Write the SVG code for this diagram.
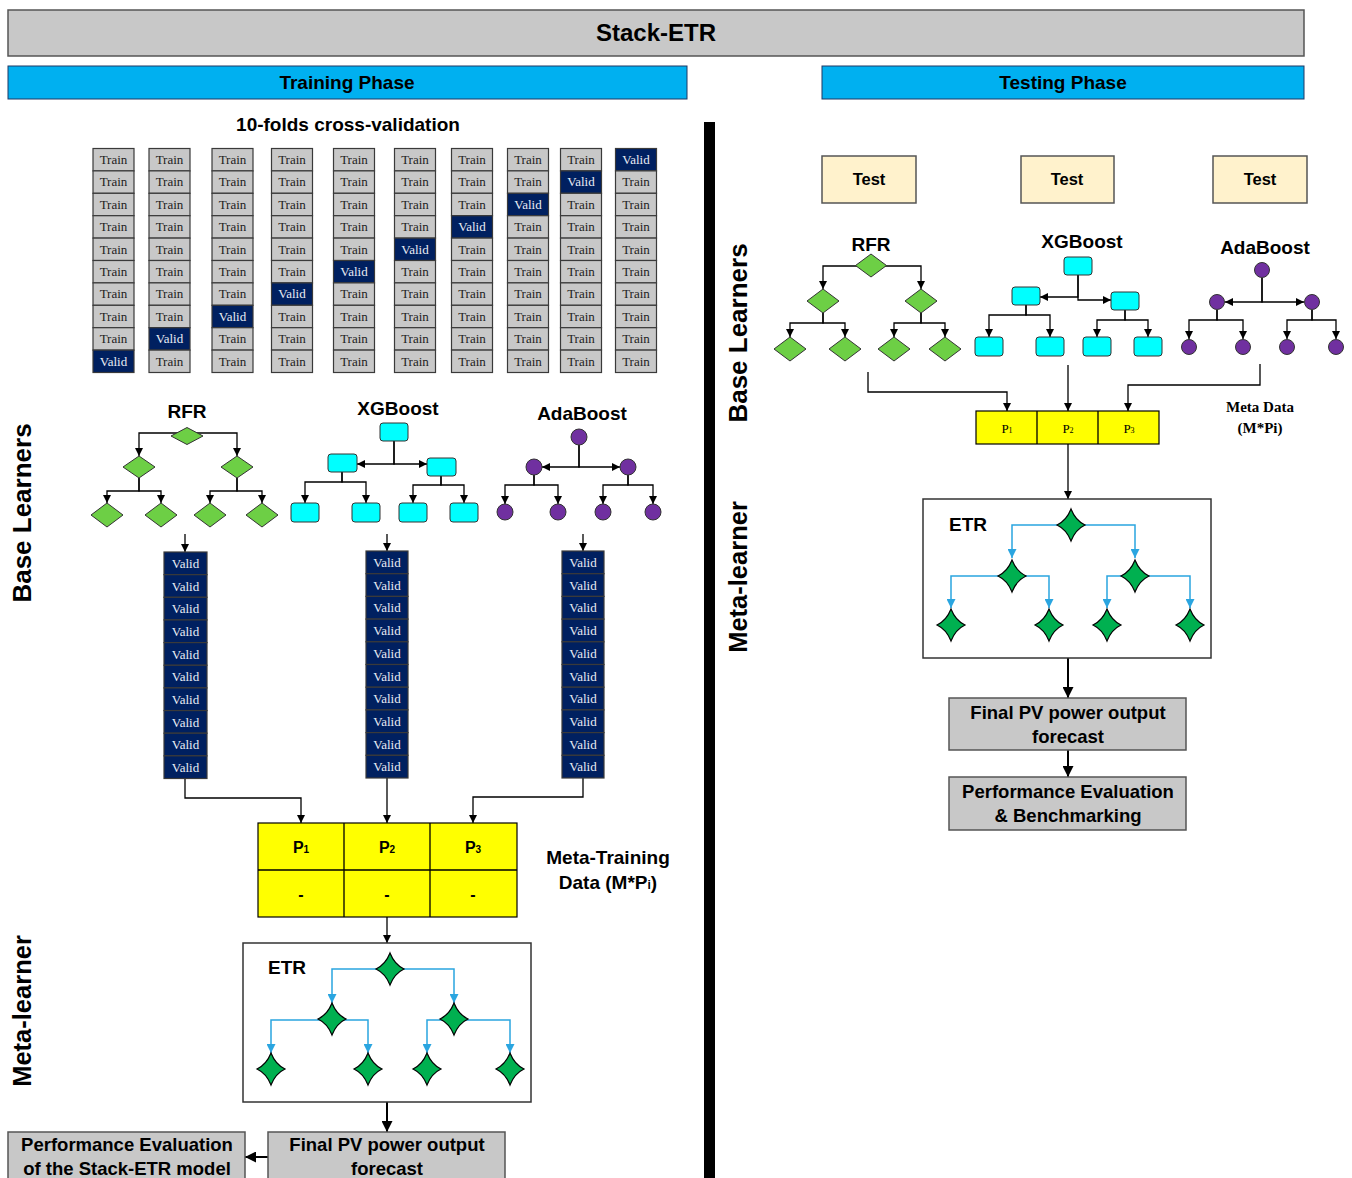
<svg xmlns="http://www.w3.org/2000/svg" xmlns:xlink="http://www.w3.org/1999/xlink" width="1352" height="1178" viewBox="0 0 1352 1178">
<style>
.h{font-family:'Liberation Sans',Arial,sans-serif;font-weight:bold;fill:#000;text-anchor:middle}
.bar{fill:#00b0f0;stroke:#1f3864;stroke-width:1}
.gbox{fill:#c8c8c8;stroke:#555;stroke-width:1.5}
.tc{fill:#c8c8c8;stroke:#3a3a3a;stroke-width:1.2}
.vc{fill:#002060;stroke:#3a3a3a;stroke-width:1.2}
.tt{font-family:'Liberation Serif','Times New Roman',serif;font-size:13px;fill:#222;text-anchor:middle}
.tv{font-family:'Liberation Serif','Times New Roman',serif;font-size:13px;fill:#e8ecf4;text-anchor:middle}
.dia{fill:#6dcf45;stroke:#333;stroke-width:1}
.xr{fill:#00ffff;stroke:#333;stroke-width:1}
.cir{fill:#7030a0;stroke:#333;stroke-width:1}
.st{fill:#00b050;stroke:#000;stroke-width:1.2}
.ln{fill:none;stroke:#000;stroke-width:1.3}
.tk{fill:none;stroke:#000;stroke-width:2}
.bl{fill:none;stroke:#2aa5e0;stroke-width:1.5}
.yb{fill:#ffff00;stroke:#000;stroke-width:1.2}
.test{fill:#fff2cc;stroke:#555;stroke-width:1.5}
.etr{fill:none;stroke:#333;stroke-width:1.5}
</style>
<defs>
<marker id="ah" viewBox="0 0 10 10" refX="10" refY="5" markerWidth="8" markerHeight="8" orient="auto" markerUnits="userSpaceOnUse"><path d="M0,0 L10,5 L0,10 z" fill="#000"/></marker>
<marker id="ah2" viewBox="0 0 10 10" refX="10" refY="5" markerWidth="11" markerHeight="11" orient="auto" markerUnits="userSpaceOnUse"><path d="M0,0 L10,5 L0,10 z" fill="#000"/></marker>
<marker id="bh" viewBox="0 0 10 10" refX="10" refY="5" markerWidth="9" markerHeight="9" orient="auto" markerUnits="userSpaceOnUse"><path d="M0,0 L10,5 L0,10 z" fill="#2aa5e0"/></marker>
<path id="star" class="st" d="M0,-16 Q4.5,-4.5 14,0 Q4.5,4.5 0,16 Q-4.5,4.5 -14,0 Q-4.5,-4.5 0,-16Z"/>
</defs>

<rect x="0" y="0" width="1352" height="1178" fill="#fff"/>

<g id="title">
<rect x="8" y="10" width="1296" height="46" class="gbox"/>
<text x="656" y="41" class="h" font-size="24">Stack-ETR</text>
</g>
<g id="training-phase">
<rect x="8" y="66" width="679" height="33" class="bar"/>
<text x="347" y="89" class="h" font-size="19">Training Phase</text>
</g>
<g id="testing-phase">
<rect x="822" y="66" width="482" height="33" class="bar"/>
<text x="1063" y="89" class="h" font-size="19">Testing Phase</text>
</g>
<rect id="divider" x="704" y="122" width="11" height="1056" fill="#000"/>

<text x="348" y="131" class="h" font-size="19">10-folds cross-validation</text>

<g id="side-labels">
<text transform="translate(31,513) rotate(-90)" class="h" font-size="26">Base Learners</text>
<text transform="translate(31,1011) rotate(-90)" class="h" font-size="25.5">Meta-learner</text>
<text transform="translate(747,333) rotate(-90)" class="h" font-size="26">Base Learners</text>
<text transform="translate(747,577) rotate(-90)" class="h" font-size="25.5">Meta-learner</text>
</g>

<!-- 10 folds grid -->
<g id="folds">
<g id="fold1" transform="translate(93,148.5)">
<rect y="0" width="41" height="22.4" class="tc"/><text x="20.5" y="15.5" class="tt">Train</text>
<rect y="22.4" width="41" height="22.4" class="tc"/><text x="20.5" y="37.9" class="tt">Train</text>
<rect y="44.8" width="41" height="22.4" class="tc"/><text x="20.5" y="60.3" class="tt">Train</text>
<rect y="67.2" width="41" height="22.4" class="tc"/><text x="20.5" y="82.7" class="tt">Train</text>
<rect y="89.6" width="41" height="22.4" class="tc"/><text x="20.5" y="105.1" class="tt">Train</text>
<rect y="112" width="41" height="22.4" class="tc"/><text x="20.5" y="127.5" class="tt">Train</text>
<rect y="134.4" width="41" height="22.4" class="tc"/><text x="20.5" y="149.9" class="tt">Train</text>
<rect y="156.8" width="41" height="22.4" class="tc"/><text x="20.5" y="172.3" class="tt">Train</text>
<rect y="179.2" width="41" height="22.4" class="tc"/><text x="20.5" y="194.7" class="tt">Train</text>
<rect y="201.6" width="41" height="22.4" class="vc"/><text x="20.5" y="217.1" class="tv">Valid</text>
</g>
<g id="fold2" transform="translate(149,148.5)">
<rect y="0" width="41" height="22.4" class="tc"/><text x="20.5" y="15.5" class="tt">Train</text>
<rect y="22.4" width="41" height="22.4" class="tc"/><text x="20.5" y="37.9" class="tt">Train</text>
<rect y="44.8" width="41" height="22.4" class="tc"/><text x="20.5" y="60.3" class="tt">Train</text>
<rect y="67.2" width="41" height="22.4" class="tc"/><text x="20.5" y="82.7" class="tt">Train</text>
<rect y="89.6" width="41" height="22.4" class="tc"/><text x="20.5" y="105.1" class="tt">Train</text>
<rect y="112" width="41" height="22.4" class="tc"/><text x="20.5" y="127.5" class="tt">Train</text>
<rect y="134.4" width="41" height="22.4" class="tc"/><text x="20.5" y="149.9" class="tt">Train</text>
<rect y="156.8" width="41" height="22.4" class="tc"/><text x="20.5" y="172.3" class="tt">Train</text>
<rect y="179.2" width="41" height="22.4" class="vc"/><text x="20.5" y="194.7" class="tv">Valid</text>
<rect y="201.6" width="41" height="22.4" class="tc"/><text x="20.5" y="217.1" class="tt">Train</text>
</g>
<g id="fold3" transform="translate(212,148.5)">
<rect y="0" width="41" height="22.4" class="tc"/><text x="20.5" y="15.5" class="tt">Train</text>
<rect y="22.4" width="41" height="22.4" class="tc"/><text x="20.5" y="37.9" class="tt">Train</text>
<rect y="44.8" width="41" height="22.4" class="tc"/><text x="20.5" y="60.3" class="tt">Train</text>
<rect y="67.2" width="41" height="22.4" class="tc"/><text x="20.5" y="82.7" class="tt">Train</text>
<rect y="89.6" width="41" height="22.4" class="tc"/><text x="20.5" y="105.1" class="tt">Train</text>
<rect y="112" width="41" height="22.4" class="tc"/><text x="20.5" y="127.5" class="tt">Train</text>
<rect y="134.4" width="41" height="22.4" class="tc"/><text x="20.5" y="149.9" class="tt">Train</text>
<rect y="156.8" width="41" height="22.4" class="vc"/><text x="20.5" y="172.3" class="tv">Valid</text>
<rect y="179.2" width="41" height="22.4" class="tc"/><text x="20.5" y="194.7" class="tt">Train</text>
<rect y="201.6" width="41" height="22.4" class="tc"/><text x="20.5" y="217.1" class="tt">Train</text>
</g>
<g id="fold4" transform="translate(271.5,148.5)">
<rect y="0" width="41" height="22.4" class="tc"/><text x="20.5" y="15.5" class="tt">Train</text>
<rect y="22.4" width="41" height="22.4" class="tc"/><text x="20.5" y="37.9" class="tt">Train</text>
<rect y="44.8" width="41" height="22.4" class="tc"/><text x="20.5" y="60.3" class="tt">Train</text>
<rect y="67.2" width="41" height="22.4" class="tc"/><text x="20.5" y="82.7" class="tt">Train</text>
<rect y="89.6" width="41" height="22.4" class="tc"/><text x="20.5" y="105.1" class="tt">Train</text>
<rect y="112" width="41" height="22.4" class="tc"/><text x="20.5" y="127.5" class="tt">Train</text>
<rect y="134.4" width="41" height="22.4" class="vc"/><text x="20.5" y="149.9" class="tv">Valid</text>
<rect y="156.8" width="41" height="22.4" class="tc"/><text x="20.5" y="172.3" class="tt">Train</text>
<rect y="179.2" width="41" height="22.4" class="tc"/><text x="20.5" y="194.7" class="tt">Train</text>
<rect y="201.6" width="41" height="22.4" class="tc"/><text x="20.5" y="217.1" class="tt">Train</text>
</g>
<g id="fold5" transform="translate(333.5,148.5)">
<rect y="0" width="41" height="22.4" class="tc"/><text x="20.5" y="15.5" class="tt">Train</text>
<rect y="22.4" width="41" height="22.4" class="tc"/><text x="20.5" y="37.9" class="tt">Train</text>
<rect y="44.8" width="41" height="22.4" class="tc"/><text x="20.5" y="60.3" class="tt">Train</text>
<rect y="67.2" width="41" height="22.4" class="tc"/><text x="20.5" y="82.7" class="tt">Train</text>
<rect y="89.6" width="41" height="22.4" class="tc"/><text x="20.5" y="105.1" class="tt">Train</text>
<rect y="112" width="41" height="22.4" class="vc"/><text x="20.5" y="127.5" class="tv">Valid</text>
<rect y="134.4" width="41" height="22.4" class="tc"/><text x="20.5" y="149.9" class="tt">Train</text>
<rect y="156.8" width="41" height="22.4" class="tc"/><text x="20.5" y="172.3" class="tt">Train</text>
<rect y="179.2" width="41" height="22.4" class="tc"/><text x="20.5" y="194.7" class="tt">Train</text>
<rect y="201.6" width="41" height="22.4" class="tc"/><text x="20.5" y="217.1" class="tt">Train</text>
</g>
<g id="fold6" transform="translate(394.5,148.5)">
<rect y="0" width="41" height="22.4" class="tc"/><text x="20.5" y="15.5" class="tt">Train</text>
<rect y="22.4" width="41" height="22.4" class="tc"/><text x="20.5" y="37.9" class="tt">Train</text>
<rect y="44.8" width="41" height="22.4" class="tc"/><text x="20.5" y="60.3" class="tt">Train</text>
<rect y="67.2" width="41" height="22.4" class="tc"/><text x="20.5" y="82.7" class="tt">Train</text>
<rect y="89.6" width="41" height="22.4" class="vc"/><text x="20.5" y="105.1" class="tv">Valid</text>
<rect y="112" width="41" height="22.4" class="tc"/><text x="20.5" y="127.5" class="tt">Train</text>
<rect y="134.4" width="41" height="22.4" class="tc"/><text x="20.5" y="149.9" class="tt">Train</text>
<rect y="156.8" width="41" height="22.4" class="tc"/><text x="20.5" y="172.3" class="tt">Train</text>
<rect y="179.2" width="41" height="22.4" class="tc"/><text x="20.5" y="194.7" class="tt">Train</text>
<rect y="201.6" width="41" height="22.4" class="tc"/><text x="20.5" y="217.1" class="tt">Train</text>
</g>
<g id="fold7" transform="translate(451.5,148.5)">
<rect y="0" width="41" height="22.4" class="tc"/><text x="20.5" y="15.5" class="tt">Train</text>
<rect y="22.4" width="41" height="22.4" class="tc"/><text x="20.5" y="37.9" class="tt">Train</text>
<rect y="44.8" width="41" height="22.4" class="tc"/><text x="20.5" y="60.3" class="tt">Train</text>
<rect y="67.2" width="41" height="22.4" class="vc"/><text x="20.5" y="82.7" class="tv">Valid</text>
<rect y="89.6" width="41" height="22.4" class="tc"/><text x="20.5" y="105.1" class="tt">Train</text>
<rect y="112" width="41" height="22.4" class="tc"/><text x="20.5" y="127.5" class="tt">Train</text>
<rect y="134.4" width="41" height="22.4" class="tc"/><text x="20.5" y="149.9" class="tt">Train</text>
<rect y="156.8" width="41" height="22.4" class="tc"/><text x="20.5" y="172.3" class="tt">Train</text>
<rect y="179.2" width="41" height="22.4" class="tc"/><text x="20.5" y="194.7" class="tt">Train</text>
<rect y="201.6" width="41" height="22.4" class="tc"/><text x="20.5" y="217.1" class="tt">Train</text>
</g>
<g id="fold8" transform="translate(507.5,148.5)">
<rect y="0" width="41" height="22.4" class="tc"/><text x="20.5" y="15.5" class="tt">Train</text>
<rect y="22.4" width="41" height="22.4" class="tc"/><text x="20.5" y="37.9" class="tt">Train</text>
<rect y="44.8" width="41" height="22.4" class="vc"/><text x="20.5" y="60.3" class="tv">Valid</text>
<rect y="67.2" width="41" height="22.4" class="tc"/><text x="20.5" y="82.7" class="tt">Train</text>
<rect y="89.6" width="41" height="22.4" class="tc"/><text x="20.5" y="105.1" class="tt">Train</text>
<rect y="112" width="41" height="22.4" class="tc"/><text x="20.5" y="127.5" class="tt">Train</text>
<rect y="134.4" width="41" height="22.4" class="tc"/><text x="20.5" y="149.9" class="tt">Train</text>
<rect y="156.8" width="41" height="22.4" class="tc"/><text x="20.5" y="172.3" class="tt">Train</text>
<rect y="179.2" width="41" height="22.4" class="tc"/><text x="20.5" y="194.7" class="tt">Train</text>
<rect y="201.6" width="41" height="22.4" class="tc"/><text x="20.5" y="217.1" class="tt">Train</text>
</g>
<g id="fold9" transform="translate(560.5,148.5)">
<rect y="0" width="41" height="22.4" class="tc"/><text x="20.5" y="15.5" class="tt">Train</text>
<rect y="22.4" width="41" height="22.4" class="vc"/><text x="20.5" y="37.9" class="tv">Valid</text>
<rect y="44.8" width="41" height="22.4" class="tc"/><text x="20.5" y="60.3" class="tt">Train</text>
<rect y="67.2" width="41" height="22.4" class="tc"/><text x="20.5" y="82.7" class="tt">Train</text>
<rect y="89.6" width="41" height="22.4" class="tc"/><text x="20.5" y="105.1" class="tt">Train</text>
<rect y="112" width="41" height="22.4" class="tc"/><text x="20.5" y="127.5" class="tt">Train</text>
<rect y="134.4" width="41" height="22.4" class="tc"/><text x="20.5" y="149.9" class="tt">Train</text>
<rect y="156.8" width="41" height="22.4" class="tc"/><text x="20.5" y="172.3" class="tt">Train</text>
<rect y="179.2" width="41" height="22.4" class="tc"/><text x="20.5" y="194.7" class="tt">Train</text>
<rect y="201.6" width="41" height="22.4" class="tc"/><text x="20.5" y="217.1" class="tt">Train</text>
</g>
<g id="fold10" transform="translate(615.5,148.5)">
<rect y="0" width="41" height="22.4" class="vc"/><text x="20.5" y="15.5" class="tv">Valid</text>
<rect y="22.4" width="41" height="22.4" class="tc"/><text x="20.5" y="37.9" class="tt">Train</text>
<rect y="44.8" width="41" height="22.4" class="tc"/><text x="20.5" y="60.3" class="tt">Train</text>
<rect y="67.2" width="41" height="22.4" class="tc"/><text x="20.5" y="82.7" class="tt">Train</text>
<rect y="89.6" width="41" height="22.4" class="tc"/><text x="20.5" y="105.1" class="tt">Train</text>
<rect y="112" width="41" height="22.4" class="tc"/><text x="20.5" y="127.5" class="tt">Train</text>
<rect y="134.4" width="41" height="22.4" class="tc"/><text x="20.5" y="149.9" class="tt">Train</text>
<rect y="156.8" width="41" height="22.4" class="tc"/><text x="20.5" y="172.3" class="tt">Train</text>
<rect y="179.2" width="41" height="22.4" class="tc"/><text x="20.5" y="194.7" class="tt">Train</text>
<rect y="201.6" width="41" height="22.4" class="tc"/><text x="20.5" y="217.1" class="tt">Train</text>
</g>
</g>

<!-- connectors -->
<g id="connectors">
<path class="ln" marker-end="url(#ah)" d="M187,433 H139 V456"/>
<path class="ln" marker-end="url(#ah)" d="M187,433 H237 V456"/>
<path class="ln" marker-end="url(#ah)" d="M139,478 V491 H107 V503"/>
<path class="ln" marker-end="url(#ah)" d="M139,478 V491 H161 V503"/>
<path class="ln" marker-end="url(#ah)" d="M237,478 V491 H210 V503"/>
<path class="ln" marker-end="url(#ah)" d="M237,478 V491 H262 V503"/>
<path class="ln" marker-end="url(#ah)" d="M394,441 V464 H357"/>
<path class="ln" marker-end="url(#ah)" d="M394,441 V464 H427"/>
<path class="ln" marker-end="url(#ah)" d="M342,472 V482 H305 V503"/>
<path class="ln" marker-end="url(#ah)" d="M342,472 V482 H366 V503"/>
<path class="ln" marker-end="url(#ah)" d="M441,476 V485 H413 V503"/>
<path class="ln" marker-end="url(#ah)" d="M441,476 V485 H464 V503"/>
<path class="ln" marker-end="url(#ah)" d="M579,445 V467 H542"/>
<path class="ln" marker-end="url(#ah)" d="M579,445 V467 H620"/>
<path class="ln" marker-end="url(#ah)" d="M534,475 V485 H505 V504"/>
<path class="ln" marker-end="url(#ah)" d="M534,475 V485 H558 V504"/>
<path class="ln" marker-end="url(#ah)" d="M628,475 V485 H603 V504"/>
<path class="ln" marker-end="url(#ah)" d="M628,475 V485 H653 V504"/>
<path class="ln" marker-end="url(#ah)" d="M185,534 V552"/>
<path class="ln" marker-end="url(#ah)" d="M387,534 V551"/>
<path class="ln" marker-end="url(#ah)" d="M583,534 V551"/>
<path class="ln" marker-end="url(#ah)" d="M185,779 V798 H301 V823"/>
<path class="ln" marker-end="url(#ah)" d="M387,778 V823"/>
<path class="ln" marker-end="url(#ah)" d="M583,778 V797 H473 V823"/>
<path class="ln" marker-end="url(#ah)" d="M387,917 V943"/>
<path class="bl" marker-end="url(#bh)" d="M390,969 H332 V1003"/>
<path class="bl" marker-end="url(#bh)" d="M390,969 H454 V1003"/>
<path class="bl" marker-end="url(#bh)" d="M332,1020 H271 V1053"/>
<path class="bl" marker-end="url(#bh)" d="M332,1020 H368 V1053"/>
<path class="bl" marker-end="url(#bh)" d="M454,1020 H427 V1053"/>
<path class="bl" marker-end="url(#bh)" d="M454,1020 H510 V1053"/>
<path class="tk" marker-end="url(#ah2)" d="M387,1102 V1132"/>
<path class="tk" marker-end="url(#ah2)" d="M268,1157 H245"/>
<path class="ln" marker-end="url(#ah)" d="M871,266 H823 V289"/>
<path class="ln" marker-end="url(#ah)" d="M871,266 H921 V289"/>
<path class="ln" marker-end="url(#ah)" d="M823,313 V323 H790 V337"/>
<path class="ln" marker-end="url(#ah)" d="M823,313 V323 H845 V337"/>
<path class="ln" marker-end="url(#ah)" d="M921,313 V323 H894 V337"/>
<path class="ln" marker-end="url(#ah)" d="M921,313 V323 H945 V337"/>
<path class="ln" marker-end="url(#ah)" d="M1078,275 V297 H1040"/>
<path class="ln" marker-end="url(#ah)" d="M1078,275 V300 H1111"/>
<path class="ln" marker-end="url(#ah)" d="M1026,305 V315 H989 V337"/>
<path class="ln" marker-end="url(#ah)" d="M1026,305 V315 H1050 V337"/>
<path class="ln" marker-end="url(#ah)" d="M1125,310 V320 H1097 V337"/>
<path class="ln" marker-end="url(#ah)" d="M1125,310 V320 H1148 V337"/>
<path class="ln" marker-end="url(#ah)" d="M1262,278 V302 H1225"/>
<path class="ln" marker-end="url(#ah)" d="M1262,278 V302 H1304"/>
<path class="ln" marker-end="url(#ah)" d="M1217,310 V320 H1189 V339"/>
<path class="ln" marker-end="url(#ah)" d="M1217,310 V320 H1243 V339"/>
<path class="ln" marker-end="url(#ah)" d="M1312,310 V320 H1287 V339"/>
<path class="ln" marker-end="url(#ah)" d="M1312,310 V320 H1336 V339"/>
<path class="ln" marker-end="url(#ah)" d="M868,372 V392 H1007 V411"/>
<path class="ln" marker-end="url(#ah)" d="M1068,365 V411"/>
<path class="ln" marker-end="url(#ah)" d="M1260,364 V385 H1128 V411"/>
<path class="ln" marker-end="url(#ah)" d="M1068,444 V499"/>
<path class="bl" marker-end="url(#bh)" d="M1071,525 H1012 V558"/>
<path class="bl" marker-end="url(#bh)" d="M1071,525 H1135 V558"/>
<path class="bl" marker-end="url(#bh)" d="M1012,576 H951 V608"/>
<path class="bl" marker-end="url(#bh)" d="M1012,576 H1049 V608"/>
<path class="bl" marker-end="url(#bh)" d="M1135,576 H1107 V608"/>
<path class="bl" marker-end="url(#bh)" d="M1135,576 H1190 V608"/>
<path class="tk" marker-end="url(#ah2)" d="M1068,658 V698"/>
<path class="tk" marker-end="url(#ah2)" d="M1068,750 V777"/>
</g>

<g id="rfr-train">
<text x="187" y="418" class="h" font-size="19">RFR</text>
<polygon class="dia" points="171,436 187,427.5 203,436 187,444.5"/>
<polygon class="dia" points="123,467 139,456 155,467 139,478"/>
<polygon class="dia" points="221,467 237,456 253,467 237,478"/>
<polygon class="dia" points="91,515 107,503 123,515 107,527"/>
<polygon class="dia" points="145,515 161,503 177,515 161,527"/>
<polygon class="dia" points="194,515 210,503 226,515 210,527"/>
<polygon class="dia" points="246,515 262,503 278,515 262,527"/>
</g>
<g id="xgb-train">
<text x="398" y="415" class="h" font-size="19">XGBoost</text>
<rect class="xr" x="380" y="423" width="28" height="18" rx="3"/>
<rect class="xr" x="328" y="454" width="29" height="18" rx="3"/>
<rect class="xr" x="427" y="458" width="29" height="18" rx="3"/>
<rect class="xr" x="291" y="503" width="28" height="19" rx="3"/>
<rect class="xr" x="352" y="503" width="28" height="19" rx="3"/>
<rect class="xr" x="399" y="503" width="28" height="19" rx="3"/>
<rect class="xr" x="450" y="503" width="28" height="19" rx="3"/>
</g>
<g id="ada-train">
<text x="582" y="420" class="h" font-size="19">AdaBoost</text>
<circle class="cir" cx="579" cy="437" r="8"/>
<circle class="cir" cx="534" cy="467" r="8"/>
<circle class="cir" cx="628" cy="467" r="8"/>
<circle class="cir" cx="505" cy="512" r="8"/>
<circle class="cir" cx="558" cy="512" r="8"/>
<circle class="cir" cx="603" cy="512" r="8"/>
<circle class="cir" cx="653" cy="512" r="8"/>
</g>

<g id="valid-rfr" transform="translate(164,552)">
<rect y="0" width="43" height="22.65" class="vc"/><text x="21.5" y="16" class="tv">Valid</text>
<rect y="22.65" width="43" height="22.65" class="vc"/><text x="21.5" y="38.65" class="tv">Valid</text>
<rect y="45.3" width="43" height="22.65" class="vc"/><text x="21.5" y="61.3" class="tv">Valid</text>
<rect y="67.95" width="43" height="22.65" class="vc"/><text x="21.5" y="83.95" class="tv">Valid</text>
<rect y="90.6" width="43" height="22.65" class="vc"/><text x="21.5" y="106.6" class="tv">Valid</text>
<rect y="113.25" width="43" height="22.65" class="vc"/><text x="21.5" y="129.25" class="tv">Valid</text>
<rect y="135.9" width="43" height="22.65" class="vc"/><text x="21.5" y="151.9" class="tv">Valid</text>
<rect y="158.55" width="43" height="22.65" class="vc"/><text x="21.5" y="174.55" class="tv">Valid</text>
<rect y="181.2" width="43" height="22.65" class="vc"/><text x="21.5" y="197.2" class="tv">Valid</text>
<rect y="203.85" width="43" height="22.65" class="vc"/><text x="21.5" y="219.85" class="tv">Valid</text>
</g>
<g id="valid-xgb" transform="translate(366,551)">
<rect y="0" width="42" height="22.7" class="vc"/><text x="21" y="16" class="tv">Valid</text>
<rect y="22.7" width="42" height="22.7" class="vc"/><text x="21" y="38.7" class="tv">Valid</text>
<rect y="45.4" width="42" height="22.7" class="vc"/><text x="21" y="61.4" class="tv">Valid</text>
<rect y="68.1" width="42" height="22.7" class="vc"/><text x="21" y="84.1" class="tv">Valid</text>
<rect y="90.8" width="42" height="22.7" class="vc"/><text x="21" y="106.8" class="tv">Valid</text>
<rect y="113.5" width="42" height="22.7" class="vc"/><text x="21" y="129.5" class="tv">Valid</text>
<rect y="136.2" width="42" height="22.7" class="vc"/><text x="21" y="152.2" class="tv">Valid</text>
<rect y="158.9" width="42" height="22.7" class="vc"/><text x="21" y="174.9" class="tv">Valid</text>
<rect y="181.6" width="42" height="22.7" class="vc"/><text x="21" y="197.6" class="tv">Valid</text>
<rect y="204.3" width="42" height="22.7" class="vc"/><text x="21" y="220.3" class="tv">Valid</text>
</g>
<g id="valid-ada" transform="translate(562,551)">
<rect y="0" width="42" height="22.7" class="vc"/><text x="21" y="16" class="tv">Valid</text>
<rect y="22.7" width="42" height="22.7" class="vc"/><text x="21" y="38.7" class="tv">Valid</text>
<rect y="45.4" width="42" height="22.7" class="vc"/><text x="21" y="61.4" class="tv">Valid</text>
<rect y="68.1" width="42" height="22.7" class="vc"/><text x="21" y="84.1" class="tv">Valid</text>
<rect y="90.8" width="42" height="22.7" class="vc"/><text x="21" y="106.8" class="tv">Valid</text>
<rect y="113.5" width="42" height="22.7" class="vc"/><text x="21" y="129.5" class="tv">Valid</text>
<rect y="136.2" width="42" height="22.7" class="vc"/><text x="21" y="152.2" class="tv">Valid</text>
<rect y="158.9" width="42" height="22.7" class="vc"/><text x="21" y="174.9" class="tv">Valid</text>
<rect y="181.6" width="42" height="22.7" class="vc"/><text x="21" y="197.6" class="tv">Valid</text>
<rect y="204.3" width="42" height="22.7" class="vc"/><text x="21" y="220.3" class="tv">Valid</text>
</g>

<g id="meta-training-data">
<rect class="yb" x="258" y="823" width="259" height="94"/>
<path class="ln" stroke-width="1.2" d="M344,823 V917 M430,823 V917 M258,870 H517"/>
<text x="301" y="853" class="h" font-size="16">P<tspan font-size="10">1</tspan></text>
<text x="387" y="853" class="h" font-size="16">P<tspan font-size="10">2</tspan></text>
<text x="473" y="853" class="h" font-size="16">P<tspan font-size="10">3</tspan></text>
<text x="301" y="900" class="h" font-size="16">-</text>
<text x="387" y="900" class="h" font-size="16">-</text>
<text x="473" y="900" class="h" font-size="16">-</text>
<text x="608" y="864" class="h" font-size="19">Meta-Training</text>
<text x="608" y="889" class="h" font-size="19">Data (M*P<tspan font-size="12">i</tspan>)</text>
</g>

<g id="etr-train">
<rect class="etr" x="243" y="943" width="288" height="159"/>
<text x="268" y="974" class="h" font-size="19" style="text-anchor:start">ETR</text>
<use xlink:href="#star" x="390" y="969"/>
<use xlink:href="#star" x="332" y="1019"/>
<use xlink:href="#star" x="454" y="1019"/>
<use xlink:href="#star" x="271" y="1069"/>
<use xlink:href="#star" x="368" y="1069"/>
<use xlink:href="#star" x="427" y="1069"/>
<use xlink:href="#star" x="510" y="1069"/>
</g>

<g id="final-train">
<rect class="gbox" x="268" y="1132" width="237" height="60"/>
<text x="387" y="1151" class="h" font-size="18.5">Final PV power output</text>
<text x="387" y="1175" class="h" font-size="18.5">forecast</text>
</g>
<g id="perf-train">
<rect class="gbox" x="8" y="1132" width="237" height="60"/>
<text x="127" y="1151" class="h" font-size="18.5">Performance Evaluation</text>
<text x="127" y="1175" class="h" font-size="18.5">of the Stack-ETR model</text>
</g>

<g id="test1"><rect class="test" x="822" y="156" width="94" height="47"/><text x="869" y="185" class="h" font-size="16.5">Test</text></g>
<g id="test2"><rect class="test" x="1021" y="156" width="93" height="47"/><text x="1067" y="185" class="h" font-size="16.5">Test</text></g>
<g id="test3"><rect class="test" x="1213" y="156" width="94" height="47"/><text x="1260" y="185" class="h" font-size="16.5">Test</text></g>

<g id="rfr-test">
<text x="871" y="251" class="h" font-size="19">RFR</text>
<polygon class="dia" points="855.5,265.5 871,254 886.5,265.5 871,277"/>
<polygon class="dia" points="807,301 823,289 839,301 823,313"/>
<polygon class="dia" points="905,301 921,289 937,301 921,313"/>
<polygon class="dia" points="774,349 790,337 806,349 790,361"/>
<polygon class="dia" points="829,349 845,337 861,349 845,361"/>
<polygon class="dia" points="878,349 894,337 910,349 894,361"/>
<polygon class="dia" points="929,349 945,337 961,349 945,361"/>
</g>
<g id="xgb-test">
<text x="1082" y="248" class="h" font-size="19">XGBoost</text>
<rect class="xr" x="1064" y="257" width="28" height="18" rx="3"/>
<rect class="xr" x="1012" y="287" width="28" height="18" rx="3"/>
<rect class="xr" x="1111" y="292" width="28" height="18" rx="3"/>
<rect class="xr" x="975" y="337" width="28" height="19" rx="3"/>
<rect class="xr" x="1036" y="337" width="28" height="19" rx="3"/>
<rect class="xr" x="1083" y="337" width="28" height="19" rx="3"/>
<rect class="xr" x="1134" y="337" width="28" height="19" rx="3"/>
</g>
<g id="ada-test">
<text x="1265" y="254" class="h" font-size="19">AdaBoost</text>
<circle class="cir" cx="1262" cy="270" r="7.5"/>
<circle class="cir" cx="1217" cy="302" r="7.5"/>
<circle class="cir" cx="1312" cy="302" r="7.5"/>
<circle class="cir" cx="1189" cy="347" r="7.5"/>
<circle class="cir" cx="1243" cy="347" r="7.5"/>
<circle class="cir" cx="1287" cy="347" r="7.5"/>
<circle class="cir" cx="1336" cy="347" r="7.5"/>
</g>

<g id="meta-data">
<rect class="yb" x="976" y="411" width="183" height="33"/>
<path class="ln" stroke-width="1.2" d="M1037,411 V444 M1098,411 V444"/>
<text x="1007" y="433" class="tt" style="fill:#000">P<tspan font-size="8">1</tspan></text>
<text x="1068" y="433" class="tt" style="fill:#000">P<tspan font-size="8">2</tspan></text>
<text x="1129" y="433" class="tt" style="fill:#000">P<tspan font-size="8">3</tspan></text>
<text x="1260" y="412" class="tt" style="font-weight:bold;font-size:15px;fill:#000">Meta Data</text>
<text x="1260" y="433" class="tt" style="font-weight:bold;font-size:15px;fill:#000">(M*Pi)</text>
</g>

<g id="etr-test">
<rect class="etr" x="923" y="499" width="288" height="159"/>
<text x="949" y="531" class="h" font-size="19" style="text-anchor:start">ETR</text>
<use xlink:href="#star" x="1071" y="525"/>
<use xlink:href="#star" x="1012" y="576"/>
<use xlink:href="#star" x="1135" y="576"/>
<use xlink:href="#star" x="951" y="625"/>
<use xlink:href="#star" x="1049" y="625"/>
<use xlink:href="#star" x="1107" y="625"/>
<use xlink:href="#star" x="1190" y="625"/>
</g>

<g id="final-test">
<rect class="gbox" x="949" y="698" width="237" height="52"/>
<text x="1068" y="719" class="h" font-size="18.5">Final PV power output</text>
<text x="1068" y="743" class="h" font-size="18.5">forecast</text>
</g>
<g id="perf-test">
<rect class="gbox" x="949" y="777" width="237" height="53"/>
<text x="1068" y="798" class="h" font-size="18.5">Performance Evaluation</text>
<text x="1068" y="822" class="h" font-size="18.5">&amp; Benchmarking</text>
</g>
</svg>
